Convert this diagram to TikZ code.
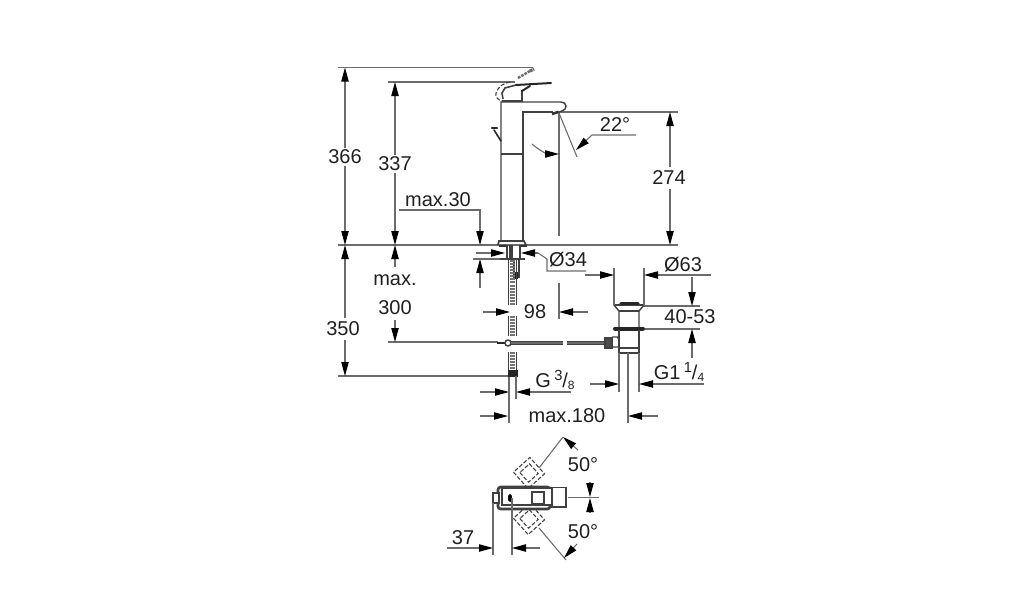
\documentclass[tikz,border=0pt]{standalone}
\usepackage{fontspec}
\setmainfont{Liberation Sans}
\usepackage{xcolor}
\usetikzlibrary{arrows.meta}
\usetikzlibrary{positioning}
\definecolor{dimgrey}{gray}{0.42}
\definecolor{partgrey}{gray}{0.25}
\definecolor{labelgrey}{gray}{0.12}
\tikzset{
  dimlabel/.style={text=labelgrey,font=\fontsize{15}{15}\selectfont,inner sep=1pt},
  dimline/.style={draw=dimgrey,line width=0.8pt},
  dimtip/.style={dimline,-{Triangle[length=10.5pt,width=5.5pt,color=black,fill=black]}},
  partline/.style={draw=partgrey,line width=1.1pt},
  darkline/.style={draw=black!85,line width=2.4pt,line cap=round},
  hidden/.style={draw=partgrey,line width=0.8pt,dash pattern=on 3pt off 1.4pt},
}
\newcommand{\hosepiece}[2]{\draw[partline,line width=0.8pt] (508.5,#1) -- (508.5,#2) (516.5,#1) -- (516.5,#2);
  \draw[draw=black!55,line width=4pt,dash pattern=on 1.5pt off 0.8pt] (512.5,#1) -- (512.5,#2)}
\newcommand{\handlebox}[1]{\begin{scope}[shift={(#1)},rotate=42]
    \draw[hidden] (-11,-11) rectangle (11,11);
    \draw[hidden] (-6.5,-6.5) rectangle (6.5,6.5);
  \end{scope}}
\begin{document}
\begin{tikzpicture}[x=0.75pt,y=-0.75pt]
    \useasboundingbox (0,0) rectangle (1014,600);
    \coordinate (deck) at (338,245);
    \draw[dimline] (deck) -- (678,245);
    \draw[dimline] (338,67.5) -- (533,67.5);
    \draw[dimline] (388,82) -- (515,82);
    \draw[dimline] (556,112) -- (678,112);
    \draw[dimline] (388,342) -- (498,342);
    \draw[dimline] (338,376) -- (510,376);

    \node[dimlabel] (h366) at (345,157) {366};
    \draw[dimtip] (h366) -- (345,67.5);
    \draw[dimtip] (h366) -- (345,245);
    \node[dimlabel] (h337) at (395,164) {337};
    \draw[dimtip] (h337) -- (395,82);
    \draw[dimtip] (h337) -- (395,245);
    \node[dimlabel] (h274) at (669,178) {274};
    \draw[dimtip] (670,167) -- (670,112);
    \draw[dimtip] (670,189) -- (670,245);
    \node[dimlabel] (h350) at (343,329) {350};
    \draw[dimtip] (345,318) -- (345,245);
    \draw[dimtip] (345,340) -- (345,376);
    \node[dimlabel] (maxlbl) at (395,280) {max.};
    \node[dimlabel] (h300) at (395,308) {300};
    \draw[dimtip] (395,267) -- (395,245);
    \draw[dimtip] (395,320) -- (395,342);

    \node[dimlabel] (max30) at (438,200) {max.30};
    \draw[dimtip] (399,210) -- (480,210) -- (480,245);
    \draw[dimtip] (480,288) -- (480,259);
    \draw[dimline] (473,259) -- (500,259);

    % faucet body and spout
    \draw[partline] (501,242) -- (501,102) -- (561,102) to[out=0,in=90] (566,106) to[out=-90,in=20] (556,113);
    \draw[partline] (523,242) -- (523,112) -- (553,112);
    \draw[partline] (501,154) -- (523,154);
    \draw[partline,line width=1.3pt] (498,245) -- (499,241) -- (524,241) -- (526,245);
    \draw[draw=black!80,line width=2pt] (552,114) -- (558,112);
    \draw[partline,line width=1.2pt] (502,101) -- (522,101) -- (522,90);
    \draw[partline,line width=1.2pt] (503,99) -- (502,93) -- (505,88) -- (516,85);
    \draw[darkline,line width=1.5pt] (516,85) -- (551,83);
    \draw[darkline,line width=1.5pt] (522,91) -- (530,86);
    \draw[draw=dimgrey,line width=1.8pt,dash pattern=on 2pt off 0.8pt] (518,78) -- (530,71);
    \draw[draw=dimgrey,line width=2.5pt,dash pattern=on 2pt off 0.5pt] (530,71) -- (534,69);
    \draw[hidden] (510,82) to[out=190,in=70] (496,93) to[out=-110,in=180] (503,101);
    \draw[darkline,line width=1.6pt] (492,128) -- (497,128);
    \draw[darkline,line width=1.2pt] (494,130) -- (501,141);

    % angle 22
    \draw[dimline] (559,113) -- (559,236);
    \draw[dimline] (559,113) -- (577,157);
    \node[dimlabel] (ang22) at (615,125) {22°};
    \draw[dimtip] (636,135) -- (592,135) -- (576,150);
    \draw[dimtip] (532,144) .. controls (540,151) and (548,154) .. (559,154);

    % tailpiece
    \draw[partline,line width=1.2pt] (507,245) -- (507,258) (520,245) -- (520,258);
    \draw[draw=partgrey,line width=3pt] (511,245) -- (511,258);
    \draw[partline,line width=1.5pt] (500,259) -- (525,259);
    \draw[draw=black!80,line width=1.8pt] (499,246) -- (506,246) (521,246) -- (527,246);
    \draw[partline,line width=0.8pt] (514,260) -- (514,277) -- (519,277) -- (519,260);
    \draw[draw=black!85,line width=2pt] (516.5,272) -- (516.5,279);
    \hosepiece{260}{305};
    \hosepiece{316}{336};
    \hosepiece{352}{370};
    \draw[draw=black!85,line width=5pt] (508,373.5) -- (518,373.5);

    % pull rod and waste
    \draw[draw=black!85,line width=2pt] (497,343) -- (505,343);
    \draw[partline,fill=white] (508,343) circle (3);
    \draw[partline,line width=0.7pt] (511,341) -- (563,341) (511,344.5) -- (563,344.5);
    \draw[partline,line width=0.7pt] (567,341) -- (605,341) (567,344.5) -- (605,344.5);
    \draw[draw=dimgrey,line width=1.2pt] (511,342.7) -- (563,342.7) (567,342.7) -- (605,342.7);
    \draw[partline,fill=black!70] (605,338) rectangle (612,348);
    \draw[partline] (612,337) -- (617,337) to[out=0,in=90] (619,341) -- (619,347) -- (612,347);
    \draw[partline] (614,305) -- (644,305);
    \draw[darkline] (621,303.5) -- (638,303.5);
    \draw[partline] (614,305) -- (619,311) -- (619,328);
    \draw[partline] (644,305) -- (639,311) -- (639,328);
    \draw[partline] (619,311) -- (639,311);
    \draw[darkline,line width=3pt] (615,328.5) -- (643,328.5);
    \draw[partline] (619,330) -- (619,353) (639,330) -- (639,353);
    \draw[partline] (619,348) -- (639,348);
    \draw[partline,line width=1.4pt] (619,353) -- (639,353);

    % dimensions at the waste
    \node[dimlabel] (dia34) at (568,260) {Ø34};
    \draw[dimtip] (476,253) -- (505,253);
    \draw[dimtip] (538,253) -- (521,253);
    \draw[dimline] (538,253) -- (547,259) -- (547,271) -- (586,271);
    \node[dimlabel] (dia63) at (683,265) {Ø63};
    \draw[dimline] (614,268) -- (614,305);
    \draw[dimline] (644,268) -- (644,305);
    \draw[dimtip] (585,275) -- (614,275);
    \draw[dimtip] (711,275) -- (644,275);
    \node[dimlabel] (h4053) at (690,317) {40-53};
    \draw[dimline] (644,306) -- (700,306);
    \draw[dimline] (645,329) -- (700,329);
    \draw[dimtip] (692,277) -- (692,306);
    \draw[dimtip] (692,358) -- (692,329);
    \node[dimlabel] (w98) at (535,312) {98};
    \draw[dimtip] (483,312) -- (510,312);
    \draw[dimtip] (588,312) -- (559,312);
    \draw[dimline] (559,283) -- (559,319);
    \node[dimlabel] (g38) at (555,380) {G\,\raisebox{5pt}{\fontsize{11}{11}\selectfont 3}/\raisebox{-2pt}{\fontsize{9}{9}\selectfont 8}};
    \draw[dimtip] (480,392) -- (509,392);
    \draw[dimtip] (571,392) -- (516,392);
    \draw[dimline] (509,377) -- (509,423);
    \draw[dimline] (516,376) -- (516,399);
    \node[dimlabel] (g114) at (679,372) {G1\,\raisebox{5pt}{\fontsize{11}{11}\selectfont 1}/\raisebox{-2pt}{\fontsize{9}{9}\selectfont 4}};
    \draw[dimline] (619,353) -- (619,392);
    \draw[dimline] (639,353) -- (639,392);
    \draw[dimtip] (590,384) -- (619,384);
    \draw[dimtip] (704,384) -- (639,384);
    \node[dimlabel] (max180) at (567,416) {max.180};
    \draw[dimtip] (480,416) -- (508,416);
    \draw[dimtip] (658,416) -- (628,416);
    \draw[dimline] (628,353) -- (628,423);

    % top view
    \handlebox{529,473};
    \handlebox{529,519};
    \draw[draw=partgrey,line width=2pt,rounded corners=2pt,fill=white] (498,487) rectangle (550,509);
    \draw[partline,line width=1.3pt,fill=white] (502,488) rectangle (552,505);
    \draw[partline,fill=white] (552,487.5) rectangle (566,507);
    \draw[partline,fill=white] (493,493) rectangle (499,503);
    \draw[partline,line width=1.4pt] (532,492) rectangle (544,504);
    \draw[fill=black] (510,498) ellipse (1.8 and 3.6);
    \draw[dimline] (539,468) -- (563,437);
    \draw[dimline] (539,528) -- (566,560);
    \draw[dimline] (568,497.5) -- (599,497.5);
    \node[dimlabel] (ang50a) at (583,465) {50°};
    \node[dimlabel] (ang50b) at (583,532) {50°};
    \draw[dimtip] (578,450) -- (563,437);
    \draw[dimtip] (577,544) -- (564,558);
    \draw[dimtip] (590,482) -- (590,497);
    \draw[dimtip] (590,512) -- (590,498);
    \node[dimlabel] (w37) at (463,538) {37};
    \draw[dimline] (493,503) -- (493,555);
    \draw[dimline] (512,498) -- (512,555);
    \draw[dimtip] (447,548) -- (493,548);
    \draw[dimtip] (540,548) -- (512,548);
\end{tikzpicture}
\end{document}
